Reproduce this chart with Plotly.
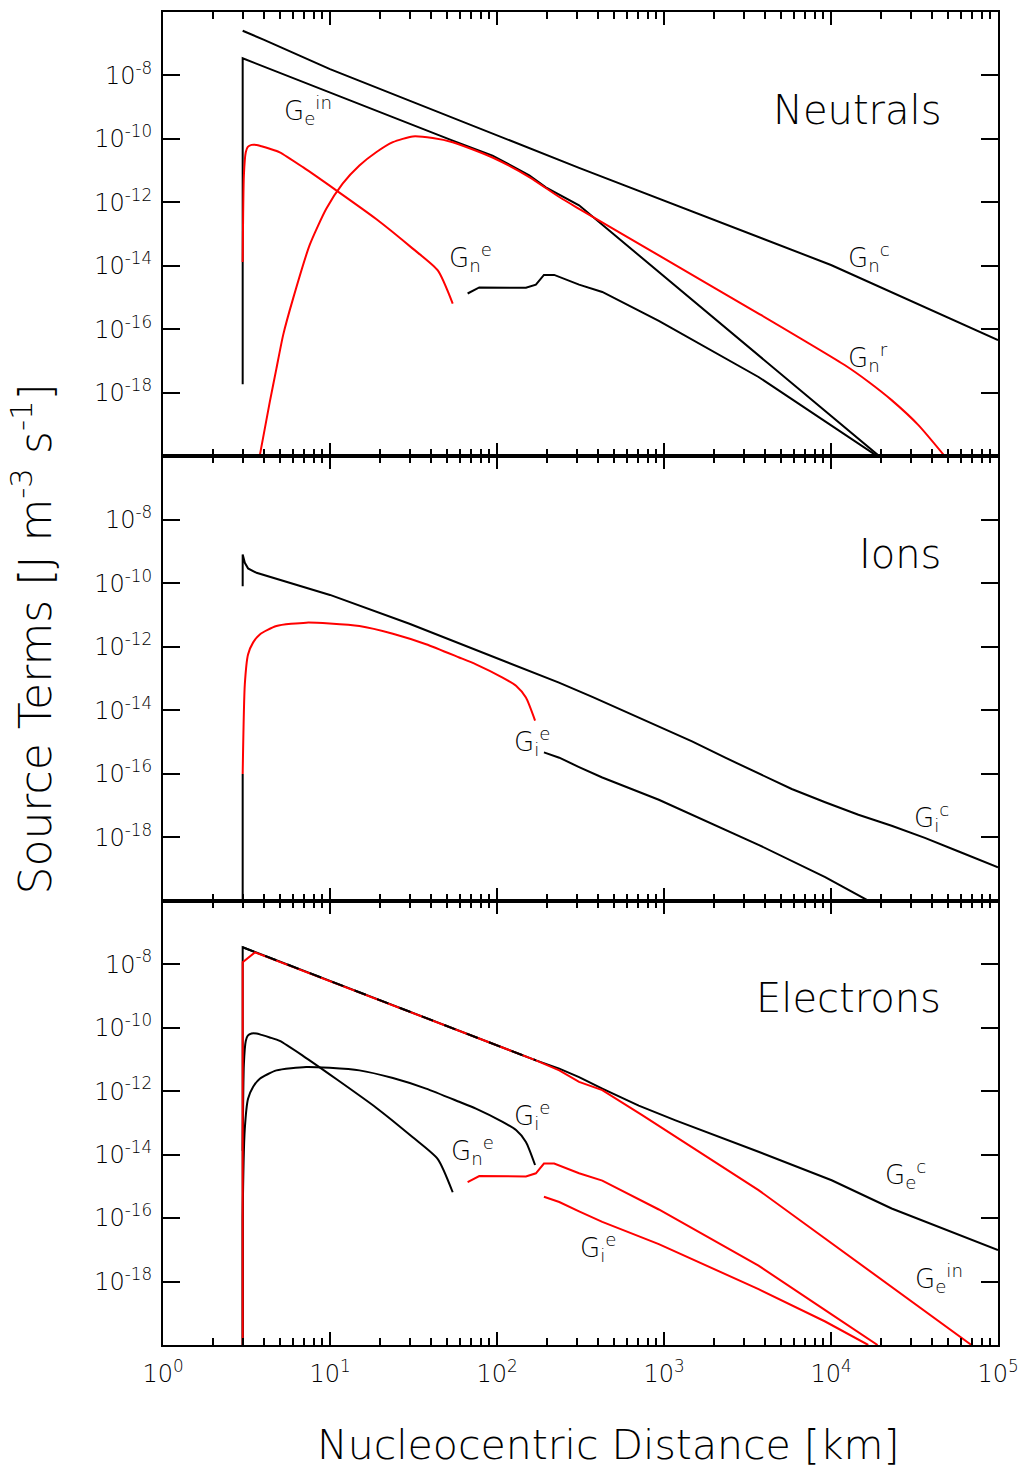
import plotly.graph_objects as go

# ---------------- data (x: nucleocentric distance in km, y: J m^-3 s^-1) ----------------
# Neutrals panel
NEU_COLL_X = [3.0, 4.0, 10.0, 310.0, 1.0e4, 1.0e5]
NEU_COLL_Y = [2.57e-7, 1.35e-7, 1.58e-8, 1.23e-11, 1.07e-14, 4.57e-17]

NEU_EIN_X = [3.0, 3.0, 54.3, 94.0, 156.0, 196.0, 310.0, 19500.0]
NEU_EIN_Y = [1.86e-18, 3.47e-8, 8.9e-11, 3.0e-11, 7.1e-12, 3.0e-12, 8.1e-13, 1.0e-20]

NEU_R_X = [3.79, 4.36, 4.78, 5.24, 6.01, 7.55, 9.5, 11.9, 15.0, 18.9, 23.8, 31.3,
           41.2, 54.3, 94.0, 156.0, 236.0, 310.0, 931.0, 3681.0, 12134.0, 16750.0,
           23070.0, 33270.0, 48080.0]
NEU_R_Y = [1.0e-20, 5.2e-19, 5.9e-18, 6.6e-17, 9.3e-16, 4.5e-14, 6.3e-13, 3.9e-12,
           1.45e-11, 3.8e-11, 7.9e-11, 1.2e-10, 1.07e-10, 7.9e-11, 2.6e-11, 6.3e-12,
           1.48e-12, 6.3e-13, 2.14e-14, 3.16e-16, 7.4e-18, 2.24e-18, 5.9e-19,
           9.8e-20, 1.0e-20]

# Neutral-electron exchange term (inner and outer branches)
GNE_X = [3.0, 3.05, 3.13, 3.22, 3.39, 3.63, 3.89, 4.36, 5.0, 6.89, 10.9, 18.9,
         31.3, 44.2, 54.3]
GNE_Y = [1.32e-14, 7.1e-12, 3.8e-11, 5.6e-11, 6.5e-11, 6.5e-11, 5.9e-11, 4.9e-11,
         3.8e-11, 1.29e-11, 2.4e-12, 3.0e-13, 3.5e-14, 7.2e-15, 6.5e-16]
GNE2_X = [66.7, 78.3, 149.0, 171.0, 191.0, 220.0, 310.0, 427.0, 931.0, 3681.0,
          9226.0, 19000.0]
GNE2_Y = [1.35e-15, 2.1e-15, 2.04e-15, 2.57e-15, 5.2e-15, 5.2e-15, 2.57e-15,
          1.51e-15, 1.86e-16, 3.16e-18, 1.26e-19, 1.0e-20]

# Ions panel
ION_COLL_X = [3.0, 3.0, 3.09, 3.23, 3.63, 10.0, 29.9, 94.0, 235.0, 372.0, 589.0,
              931.0, 1472.0, 2328.0, 3681.0, 5820.0, 9226.0, 14590.0, 23070.0,
              36480.0, 57680.0, 1.0e5]
ION_COLL_Y = [8.1e-11, 8.1e-10, 4.4e-10, 2.95e-10, 2.14e-10, 4.3e-11, 5.3e-12,
              5.1e-13, 7.4e-14, 2.63e-14, 9.1e-15, 3.16e-15, 1.05e-15, 3.2e-16,
              1.02e-16, 3.3e-17, 1.26e-17, 5.1e-18, 2.3e-18, 9.5e-19, 3.6e-19,
              1.12e-19]

# Ion-electron exchange term (inner and outer branches)
GIE_X = [3.0, 3.0, 3.09, 3.23, 3.46, 3.8, 4.78, 7.2, 9.95, 15.0, 23.8, 37.6, 59.4,
         74.8, 108.0, 130.0, 149.0, 169.0]
GIE_Y = [1.0e-20, 9.8e-17, 6.6e-14, 5.75e-13, 1.35e-12, 2.45e-12, 4.5e-12, 5.75e-12,
         5.4e-12, 4.5e-12, 2.57e-12, 1.2e-12, 4.6e-13, 2.8e-13, 1.07e-13, 5.9e-14,
         2.5e-14, 4.7e-15]
GIE2_X = [191.0, 236.0, 310.0, 427.0, 931.0, 3681.0, 9226.0, 16711.0]
GIE2_Y = [4.7e-16, 3.2e-16, 1.62e-16, 7.6e-17, 1.51e-17, 5.75e-19, 5.5e-20, 1.0e-20]

# Electrons panel
ELE_COLL_X = [3.0, 3.0, 171.0, 236.0, 310.0, 427.0, 706.0, 1172.0, 3681.0,
              10090.0, 23070.0, 1.0e5]
ELE_COLL_Y = [1.0e-20, 3.4e-8, 9.3e-12, 5.1e-12, 2.75e-12, 1.2e-12, 3.5e-13,
              1.2e-13, 1.23e-14, 1.55e-15, 2.0e-16, 9.8e-18]

ELE_EIN_X = [3.0, 3.0, 3.55, 171.0, 236.0, 310.0, 427.0, 740.0, 3681.0, 69340.0]
ELE_EIN_Y = [1.0e-20, 1.15e-8, 2.35e-8, 9.3e-12, 4.5e-12, 1.95e-12, 1.07e-12,
             1.74e-13, 7.6e-16, 1.0e-20]

# Axis ticks
X_TICKS = [1, 10, 100, 1000, 1e4, 1e5]
X_TICK_LABELS = ["10<sup>0</sup>", "10<sup>1</sup>", "10<sup>2</sup>",
                 "10<sup>3</sup>", "10<sup>4</sup>", "10<sup>5</sup>"]
Y_TICKS = [1e-18, 1e-16, 1e-14, 1e-12, 1e-10, 1e-8]
Y_TICK_LABELS = ["10<sup>-18</sup>", "10<sup>-16</sup>", "10<sup>-14</sup>",
                 "10<sup>-12</sup>", "10<sup>-10</sup>", "10<sup>-8</sup>"]

# ---------------- styling ----------------
FONT = "DejaVu Sans"
WEIGHT = 200
BLACK = "#000000"
RED = "#ff0000"
LW = 2

fig = go.Figure()


def line(x, y, color, panel, dash=None, smooth=False):
    fig.add_trace(go.Scatter(
        x=x, y=y, mode="lines", connectgaps=False,
        line=dict(color=color, width=LW, dash=dash,
                  shape="spline" if smooth else "linear",
                  smoothing=0.6 if smooth else None),
        xaxis="x" if panel == 1 else f"x{panel}",
        yaxis="y" if panel == 1 else f"y{panel}",
        showlegend=False, hoverinfo="skip"))


# Neutrals (panel 1)
line(NEU_COLL_X, NEU_COLL_Y, BLACK, 1)
line(NEU_EIN_X, NEU_EIN_Y, BLACK, 1)
line(GNE2_X, GNE2_Y, BLACK, 1)
line(GNE_X, GNE_Y, RED, 1, smooth=True)
line(NEU_R_X, NEU_R_Y, RED, 1, smooth=True)

# Ions (panel 2)
line(ION_COLL_X, ION_COLL_Y, BLACK, 2)
line(GIE_X[:2] + [None] + GIE2_X, GIE_Y[:2] + [None] + GIE2_Y, BLACK, 2)
line(GIE_X[1:], GIE_Y[1:], RED, 2, smooth=True)

# Electrons (panel 3)
line(ELE_COLL_X, ELE_COLL_Y, BLACK, 3)
line(GNE_X, GNE_Y, BLACK, 3, smooth=True)
line(GIE_X, GIE_Y, BLACK, 3, smooth=True)
line(ELE_EIN_X, ELE_EIN_Y, RED, 3)
line(GNE2_X, GNE2_Y, RED, 3)
line(GIE2_X, GIE2_Y, RED, 3)
# collisional term shows through where it coincides with the inelastic loss
line(ELE_COLL_X[1:3], ELE_COLL_Y[1:3], BLACK, 3, dash="12px,12px")

minor_vals = [m * 10 ** d for d in range(0, 5) for m in range(2, 10)]
tick_font = dict(family=FONT, size=24, color=BLACK, weight=WEIGHT)

domains = {1: [2 / 3, 1.0], 2: [1 / 3, 2 / 3], 3: [0.0, 1 / 3]}
layout_axes = {}
for p in (1, 2, 3):
    xs = "" if p == 1 else str(p)
    layout_axes[f"xaxis{xs}"] = dict(
        type="log", range=[0, 5], domain=[0, 1], anchor=f"y{xs}",
        showline=True, linewidth=2, linecolor=BLACK, mirror="ticks",
        ticks="inside", ticklen=13, tickwidth=2, tickcolor=BLACK,
        tickmode="array", tickvals=X_TICKS, ticktext=X_TICK_LABELS,
        showticklabels=(p == 3), tickfont=tick_font, ticklabelstandoff=6,
        showgrid=False, zeroline=False,
        minor=dict(ticks="inside", ticklen=7, tickwidth=2, tickcolor=BLACK,
                   tickmode="array", tickvals=minor_vals, showgrid=False),
    )
    layout_axes[f"yaxis{xs}"] = dict(
        type="log", range=[-20, -6], domain=domains[p], anchor=f"x{xs}",
        showline=True, linewidth=2, linecolor=BLACK, mirror="ticks",
        ticks="inside", ticklen=17, tickwidth=2, tickcolor=BLACK,
        tickmode="array", tickvals=Y_TICKS, ticktext=Y_TICK_LABELS,
        tickfont=tick_font, ticklabelstandoff=4,
        showgrid=False, zeroline=False,
    )

lab_font = dict(family=FONT, size=26, color=BLACK, weight=WEIGHT)
panel_font = dict(family=FONT, size=40, color=BLACK, weight=WEIGHT)
title_font = dict(family=FONT, size=41, color=BLACK, weight=WEIGHT)
ytitle_font = dict(family=FONT, size=44, color=BLACK, weight=WEIGHT)


def label(panel, lx, ly, text, font=lab_font, xanchor="left"):
    s = "" if panel == 1 else str(panel)
    return dict(x=lx, y=ly, xref=f"x{s}", yref=f"y{s}", text=text, font=font,
                xanchor=xanchor, yanchor="middle", showarrow=False)


annotations = [
    label(1, 0.711, -9.10, "G<sub>e</sub><sup>in</sup>"),
    label(1, 1.703, -13.72, "G<sub>n</sub><sup>e</sup>"),
    label(1, 4.088, -13.72, "G<sub>n</sub><sup>c</sup>"),
    label(1, 4.088, -16.90, "G<sub>n</sub><sup>r</sup>"),
    label(1, 4.671, -9.08, "Neutrals", panel_font, "right"),
    label(2, 4.671, -9.07, "Ions", panel_font, "right"),
    label(2, 2.089, -15.00, "G<sub>i</sub><sup>e</sup>"),
    label(2, 4.486, -17.37, "G<sub>i</sub><sup>c</sup>"),
    label(3, 4.671, -9.08, "Electrons", panel_font, "right"),
    label(3, 2.089, -12.76, "G<sub>i</sub><sup>e</sup>"),
    label(3, 1.711, -13.86, "G<sub>n</sub><sup>e</sup>"),
    label(3, 4.313, -14.62, "G<sub>e</sub><sup>c</sup>"),
    label(3, 2.487, -16.94, "G<sub>i</sub><sup>e</sup>"),
    label(3, 4.492, -17.92, "G<sub>e</sub><sup>in</sup>"),
    dict(x=0.533, y=-0.075, xref="paper", yref="paper",
         text="Nucleocentric Distance [km]", font=title_font,
         xanchor="center", yanchor="middle", showarrow=False),
    dict(x=-0.157, y=0.530, xref="paper", yref="paper",
         text="Source Terms [J m<sup>-3</sup> s<sup>-1</sup>]", font=ytitle_font,
         textangle=-90, xanchor="center", yanchor="middle", showarrow=False),
]

fig.update_layout(
    width=1029, height=1472,
    margin=dict(l=163, r=29, t=10, b=127),
    paper_bgcolor="white", plot_bgcolor="white",
    annotations=annotations,
    **layout_axes,
)

fig.write_html("out.html")
